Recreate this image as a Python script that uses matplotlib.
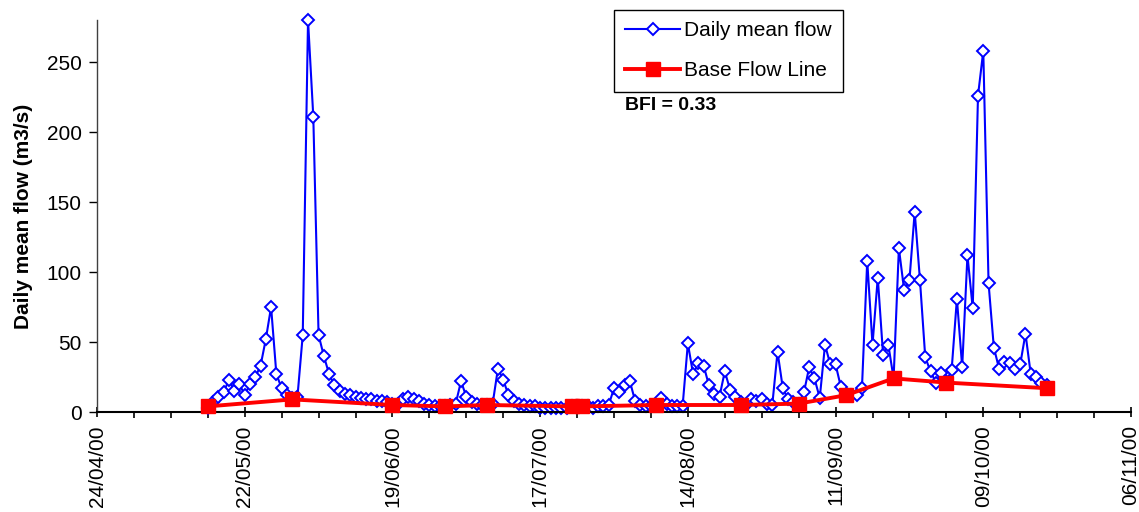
import numpy as np
import pandas as pd
import matplotlib
matplotlib.use("Agg")
import matplotlib.pyplot as plt
import matplotlib.dates as mdates

plt.rcParams['font.family'] = ['Liberation Sans', 'DejaVu Sans']

# daily mean flow (m3/s), one value per day starting 15/05/2000
flow_start = '2000-05-15'
daily_flow = [
    3, 7, 11, 14, 23, 15, 20, 12, 20, 25,
    33, 52, 75, 27, 17, 12, 10, 11, 55, 280,
    211, 55, 40, 27, 19, 15, 13, 12, 11, 10,
    9, 9, 8, 8, 7, 6, 6, 9, 11, 9,
    8, 6, 5, 4, 4, 4, 5, 6, 22, 11,
    7, 6, 5, 5, 6, 31, 23, 12, 8, 6,
    5, 4, 4, 3, 3, 3, 3, 3, 3, 4,
    4, 4, 4, 3, 4, 4, 5, 17, 14, 19,
    22, 8, 5, 4, 4, 5, 10, 6, 4, 4,
    4, 49, 27, 35, 33, 19, 13, 11, 29, 16,
    11, 7, 5, 9, 8, 9, 6, 5, 43, 17,
    9, 7, 6, 14, 32, 24, 10, 48, 34, 34,
    18, 12, 12, 12, 17, 108, 48, 96, 41, 48,
    24, 117, 87, 94, 143, 94, 39, 29, 21, 28,
    22, 30, 81, 32, 112, 74, 226, 258, 92, 46,
    31, 36, 35, 31, 34, 56, 27, 25, 21, 19,
]

base_dates = ['2000-05-15', '2000-05-31', '2000-06-19', '2000-06-29',
              '2000-07-07', '2000-07-23', '2000-07-25', '2000-08-08',
              '2000-08-24', '2000-09-04', '2000-09-13', '2000-09-22',
              '2000-10-02', '2000-10-21']
base_flow = [4, 9, 5, 4, 5, 4, 4, 5, 5, 6, 12, 24, 21, 17]

bfi_text = 'BFI = 0.33'

flow_dates = pd.date_range(flow_start, periods=len(daily_flow), freq='D').to_numpy()
base_x = pd.to_datetime(base_dates).to_numpy()

fig = plt.figure(figsize=(11.39, 5.12), dpi=100)
ax = fig.add_axes([97 / 1139, 1 - 412 / 512, (1131 - 97) / 1139, (412 - 20) / 512])

ax.plot(flow_dates, daily_flow, color='#0000ff', lw=1.5, marker='D', ms=6.3,
        mfc='white', mec='#0000ff', mew=1.4, label='Daily mean flow', zorder=2,
        clip_on=False)
ax.plot(base_x, base_flow, color='#ff0000', lw=2.8, marker='s', ms=10.5,
        mfc='#ff0000', mec='#ff0000', label='Base Flow Line', zorder=3,
        clip_on=False)

ax.set_xlim(np.datetime64('2000-04-24'), np.datetime64('2000-11-06'))
ax.set_ylim(0, 280)

major = pd.date_range('2000-04-24', '2000-11-06', freq='28D')
minor = pd.date_range('2000-04-24', '2000-11-06', freq='7D')
ax.set_xticks(mdates.date2num(major.to_pydatetime()))
ax.set_xticks(mdates.date2num(minor.to_pydatetime()), minor=True)
ax.xaxis.set_major_formatter(mdates.DateFormatter('%d/%m/%y'))
ax.set_yticks(np.arange(0, 251, 50))

ax.tick_params(axis='x', which='major', direction='inout', length=7, width=1.2,
               labelsize=15, labelrotation=90, pad=6)
ax.tick_params(axis='x', which='minor', direction='out', length=4, width=1.2)
ax.tick_params(axis='y', direction='out', length=6, width=1.0, labelsize=15, pad=5)

for s in ['top', 'right']:
    ax.spines[s].set_visible(False)
ax.spines['left'].set_color('#404040')
ax.spines['left'].set_linewidth(1.0)
ax.spines['bottom'].set_linewidth(1.5)

ax.set_ylabel('Daily mean flow (m3/s)', fontsize=15, fontweight='bold', labelpad=10)

leg = ax.legend(loc='upper left', bbox_to_anchor=(614 / 1139, 1 - 10 / 512),
                bbox_transform=fig.transFigure, fontsize=15, frameon=True,
                fancybox=False, edgecolor='black', framealpha=1,
                handlelength=2.6, handletextpad=0.2, borderpad=0.55,
                labelspacing=1.0, borderaxespad=0)
leg.get_frame().set_linewidth(1.0)

fig.text(625 / 1139, 1 - 105 / 512, bfi_text, fontsize=14, fontweight='bold',
         ha='left', va='center')

fig.savefig('out.png', dpi=100)
